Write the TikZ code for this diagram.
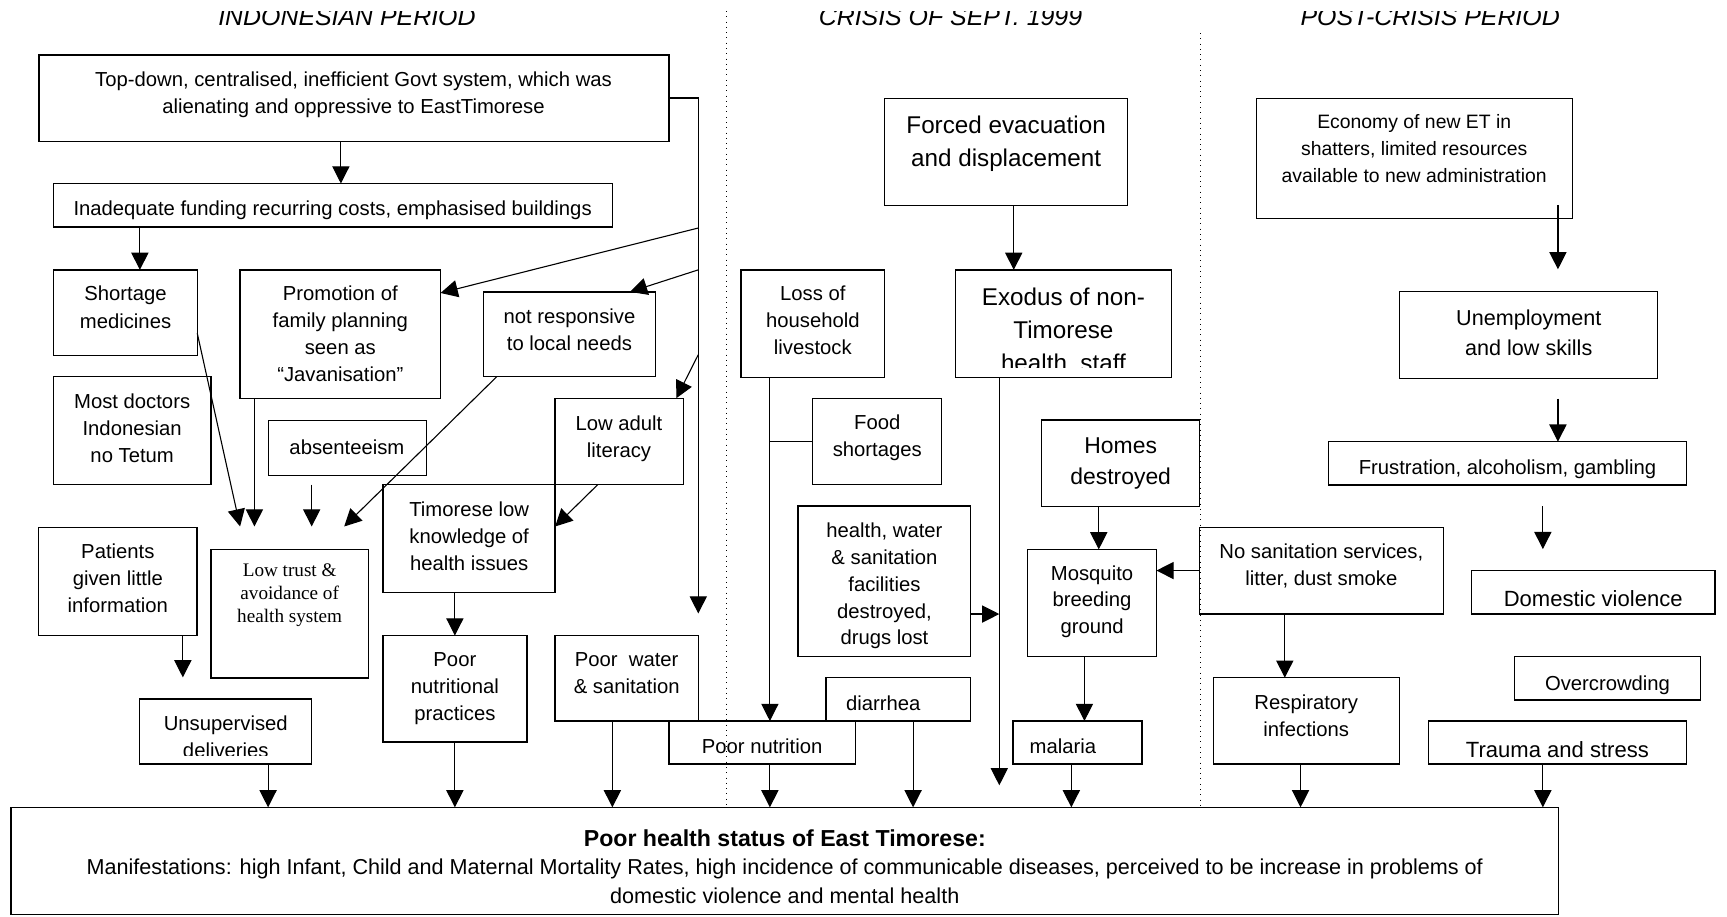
\documentclass[tikz,border=0pt]{standalone}
\usepackage{fontspec}
\setmainfont{Liberation Sans}
\newfontfamily\serifface{Liberation Serif}
\usetikzlibrary{arrows.meta,fit}
\newcommand\fsz[2]{\fontsize{#1pt}{#2pt}\selectfont}
% box by its corners: name, x1, y1, x2, y2
\newcommand\bx[5]{\node[box, fit={(#2,#3) (#4,#5)}] (#1) {};}

\begin{document}
\begin{tikzpicture}[x=0.5pt,y=-0.5pt,
  box/.style={draw, line width=0.6pt, inner sep=0pt, outer sep=0pt},
  txt/.style={inner sep=0pt, align=center, yshift=-1.8pt, execute at begin node=\strut, execute at end node=\strut},
  norm/.style={txt, font=\fsz{9.2}{12.25}},
  big/.style={txt, font=\fsz{11}{15}},
  mid/.style={txt, font=\fsz{10}{13.5}},
  small/.style={txt, font=\fsz{8.8}{12.25}},
  serif/.style={txt, font=\serifface\fsz{8.7}{10.25}},
  ttl/.style={inner sep=0pt, anchor=base, font=\fsz{11.3}{13}\itshape},
  arr/.style={line width=0.5pt, -{Triangle[length=7.8pt,width=7.8pt]}},
  ln/.style={line width=0.5pt},
  sep/.style={line width=0.4pt, dotted}
]
\useasboundingbox (0,0) rectangle (1568,832);

% period headings (cut at the top edge)
\begin{scope}
  \clip (0,10.5) rectangle (1568,40);
  \node[ttl] (h1) at (315,22.7) {INDONESIAN PERIOD};
  \node[ttl] (h2) at (863,22.7) {CRISIS OF SEPT. 1999};
  \node[ttl] (h3) at (1298.5,22.7) {POST-CRISIS PERIOD};
\end{scope}

% boxes
\bx{top}{35.3}{50}{607.3}{128.6}
\bx{inad}{48.5}{166.6}{556}{206}
\bx{short}{48.4}{245}{179.1}{323}
\bx{promo}{218}{245}{400}{362}
\bx{notresp}{438.7}{265}{595}{342}
\bx{doctors}{48.4}{342}{191.5}{440}
\bx{absent}{243.5}{381.5}{387}{432}
\bx{lowlit}{504}{361.6}{620.6}{440}
\bx{timk}{347.7}{440}{504}{537.7}
\bx{trust}{191.5}{498.6}{334.5}{615.6}
\bx{patients}{35.2}{479}{179}{577}
\bx{unsup}{126.7}{634.7}{283}{693.6}
\bx{pnp}{347.7}{577}{478.4}{673.7}
\bx{pws}{504}{577}{634}{654.6}
\bx{pnut}{607.3}{654.6}{777}{693.6}
\bx{diar}{750}{615}{881}{654.6}
\bx{loss}{672.8}{245}{803}{342.5}
\bx{forced}{803}{89.3}{1023.8}{186.7}
\bx{exodus}{867.4}{245}{1063.6}{342.5}
\bx{food}{737.8}{362}{855}{440}
\bx{hw}{724.5}{459.4}{881}{596}
\bx{homes}{945.9}{381.3}{1089}{460}
\bx{mosq}{932.8}{498.8}{1050}{596}
\bx{malaria}{919.7}{654.6}{1036.9}{693.6}
\bx{nosan}{1089}{479}{1310.4}{557.5}
\bx{resp}{1101.7}{615.3}{1270.6}{693.6}
\bx{econ}{1141}{89.3}{1427.5}{198.2}
\bx{unemp}{1270.6}{264.8}{1504.8}{343.5}
\bx{frus}{1206.4}{401}{1531}{440.3}
\bx{dv}{1336}{518}{1557}{557.5}
\bx{over}{1375}{596}{1544}{635.5}
\bx{trauma}{1296.7}{654.6}{1531}{693.6}
\bx{health}{10}{733}{1415}{830}

% box texts
\node[norm] (top-t) at (321,84) {Top-down, centralised, inefficient Govt system, which was\\alienating and oppressive to EastTimorese};
\node[norm] (inad-t) at (302,187) {Inadequate funding recurring costs, emphasised buildings};
\node[norm, font=\fsz{9.2}{13}] (short-t) at (114,279) {Shortage\\medicines};
\node[norm] (promo-t) at (309,303) {Promotion of\\family planning\\seen as\\“Javanisation”};
\node[norm] (notresp-t) at (517,299) {not responsive\\to local needs};
\node[norm] (doctors-t) at (120,389) {Most doctors\\Indonesian\\no Tetum};
\node[norm] (absent-t) at (315,404) {absenteeism};
\node[norm] (lowlit-t) at (562,396.5) {Low adult\\literacy};
\node[norm] (timk-t) at (426,486.5) {Timorese low\\knowledge of\\health issues};
\node[serif] (trust-t) at (263,538) {Low trust \&\\avoidance of\\health system};
\node[norm] (patients-t) at (107,525) {Patients\\given little\\information};
\begin{scope}
  \clip (126.7,634.7) rectangle (283,685.5);
  \node[norm] (unsup-t) at (205,669) {Unsupervised\\deliveries};
\end{scope}
\node[norm] (pnp-t) at (413,623) {Poor\\nutritional\\practices};
\node[norm] (pws-t) at (569,611) {Poor \ water\\\& sanitation};
\node[norm] (pnut-t) at (692,676) {Poor nutrition};
\node[norm] (diar-t) at (802,637) {diarrhea};
\node[norm] (loss-t) at (738,291) {Loss of\\household\\livestock};
\node[big] (forced-t) at (913.5,129) {Forced evacuation\\and displacement};
\begin{scope}
  \clip (867.4,245) rectangle (1063.6,333.5);
  \node[big] (exodus-t) at (965.5,300) {Exodus of non-\\Timorese\\health \ staff};
\end{scope}
\node[norm] (food-t) at (796.5,396) {Food\\shortages};
\node[norm] (hw-t) at (803,530) {health, water\\\& sanitation\\facilities\\destroyed,\\drugs lost};
\node[txt, font=\fsz{10.4}{14}] (homes-t) at (1017.5,419) {Homes\\destroyed};
\node[norm] (mosq-t) at (991.5,544.5) {Mosquito\\breeding\\ground};
\node[norm] (malaria-t) at (965,676) {malaria};
\node[norm] (nosan-t) at (1199.7,512.5) {No sanitation services,\\litter, dust smoke};
\node[norm] (resp-t) at (1186,649.5) {Respiratory\\infections};
\node[small] (econ-t) at (1284,134.5) {Economy of new ET in\\shatters, limited resources\\available to new administration};
\node[txt, font=\fsz{9.8}{13.5}] (unemp-t) at (1388,302.5) {Unemployment\\and low skills};
\node[norm] (frus-t) at (1368.7,422) {Frustration, alcoholism, gambling};
\node[mid] (dv-t) at (1446.5,542) {Domestic violence};
\node[norm] (over-t) at (1459.5,618) {Overcrowding};
\node[mid] (trauma-t) at (1414,679) {Trauma and stress};
\node[txt, font=\fsz{10.5}{13.5}\bfseries] (health-t) at (712.5,760) {Poor health status of East Timorese:};
\node[txt, font=\fsz{9.8}{13.5}] (health-m) at (712.5,800.5) {Manifestations: high Infant, Child and Maternal Mortality Rates, high incidence of communicable diseases, perceived to be increase in problems of\\domestic violence and mental health};

% period separators
\draw[sep] (660,10) -- (health.north -| 660,0);
\draw[sep] (1090,30) -- (health.north -| 1090,0);

% free ends of connectors
\coordinate (vb) at (634,89);
\coordinate (vt) at (634,557);
\coordinate (k1) at (218,478);
\coordinate (k2) at (231,478);
\coordinate (k3) at (283,478);
\coordinate (k4) at (312.5,478);
\coordinate (k5) at (283,440);
\coordinate (k6) at (166,615);
\coordinate (k7) at (907.3,713);
\coordinate (e1) at (1414.5,186);
\coordinate (e2) at (1414.5,244.5);
\coordinate (u1) at (1414.5,362);
\coordinate (f1) at (1400.8,459.4);
\coordinate (f2) at (1400.8,498.5);

% Indonesian period
\draw[arr] (top.east |- vb) -- (vb) -- (vt);
\draw[arr] (vb |- 0,207) -- (promo.east |- 0,266);
\draw[arr] (vb |- 0,245) -- (notresp.north -| 572,0);
\draw[arr] (vb |- 0,322) -- (lowlit.north -| 614,0);
\draw[arr] (top.south -| 309.5,0) -- (inad.north -| 309.5,0);
\draw[arr] (inad.south -| 127,0) -- (short.north -| 127,0);
\draw[arr] (short.east |- 0,302.6) -- (k1);
\draw[arr] (promo.south -| k2) -- (k2);
\draw[arr] (k5) -- (k3);
\draw[arr] (notresp.south -| 451,0) -- (k4);
\draw[arr] (lowlit.south -| 542.7,0) -- (timk.east |- 0,478);
\draw[arr] (timk.south -| 413,0) -- (pnp.north -| 413,0);
\draw[arr] (patients.south -| k6) -- (k6);
\draw[arr] (unsup.south -| 243.4,0) -- (health.north -| 243.4,0);
\draw[arr] (pnp.south -| 413,0) -- (health.north -| 413,0);
\draw[arr] (pws.south -| 556,0) -- (health.north -| 556,0);

% crisis of Sept. 1999
\draw[arr] (loss.south -| 699,0) -- (pnut.north -| 699,0);
\draw[ln] (food.west -| 699,0) -- (food.west);
\draw[arr] (pnut.south -| 699,0) -- (health.north -| 699,0);
\draw[arr] (diar.south -| 829,0) -- (health.north -| 829,0);
\draw[arr] (forced.south -| 920.4,0) -- (exodus.north -| 920.4,0);
\draw[arr] (exodus.south -| k7) -- (k7);
\draw[arr] (hw.east |- 0,557.5) -- (k7 |- 0,557.5);
\draw[arr] (homes.south -| 997.6,0) -- (mosq.north -| 997.6,0);
\draw[arr] (mosq.south -| 984.6,0) -- (malaria.north -| 984.6,0);
\draw[arr] (malaria.south -| 972.7,0) -- (health.north -| 972.7,0);

% post-crisis period
\draw[arr] (nosan.west |- 0,518) -- (mosq.east |- 0,518);
\draw[arr] (nosan.south -| 1166.5,0) -- (resp.north -| 1166.5,0);
\draw[arr] (resp.south -| 1180.8,0) -- (health.north -| 1180.8,0);
\draw[arr] (e1) -- (e2);
\draw[arr] (u1) -- (frus.north -| u1);
\draw[arr] (f1) -- (f2);
\draw[arr] (trauma.south -| 1400.8,0) -- (health.north -| 1400.8,0);
\end{tikzpicture}
\end{document}
